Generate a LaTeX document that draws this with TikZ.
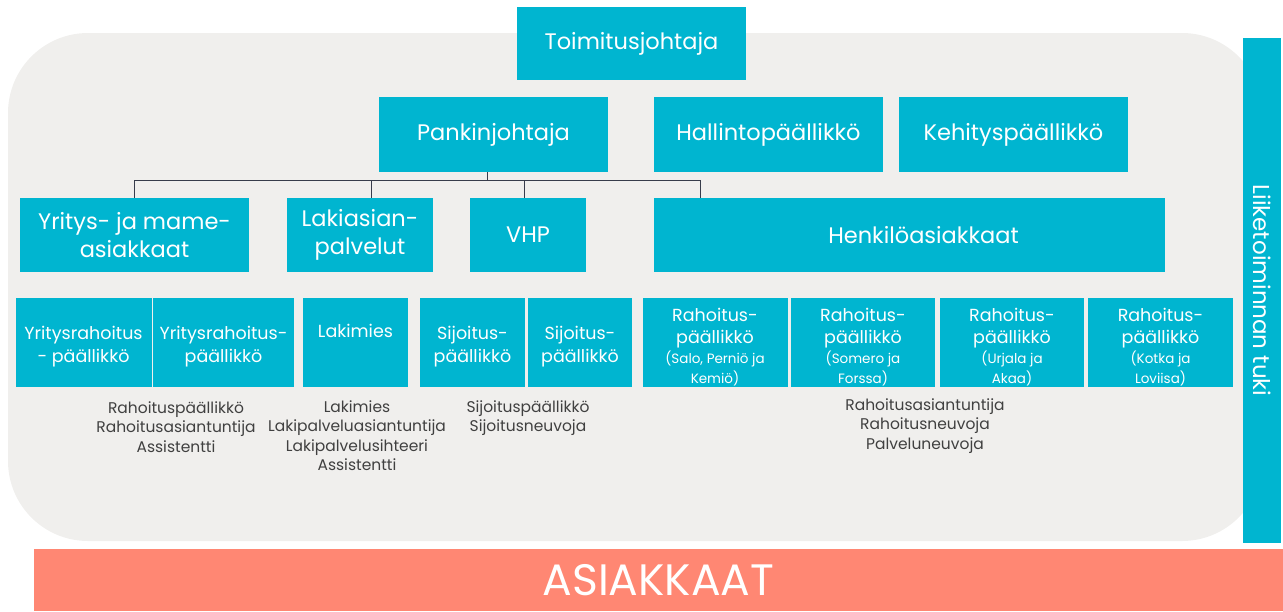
\documentclass[tikz,border=0pt]{standalone}
\usepackage{fontspec}
\setmainfont{Poppins}
\definecolor{boxc}{RGB}{0,181,208}
\definecolor{bgc}{RGB}{240,239,237}
\definecolor{salmon}{RGB}{255,135,115}
\definecolor{linec}{RGB}{55,60,75}
\definecolor{txtc}{RGB}{64,64,64}
\newcommand{\smalltx}[1]{{\fontsize{13.5}{18}\selectfont #1}}
\begin{document}
\begin{tikzpicture}[x=1pt,y=-1pt,
  box/.style={fill=boxc, text=white, align=center, inner sep=0pt, font=\fontsize{22.5}{28}\selectfont},
  sbox/.style={fill=boxc, inner sep=0pt, minimum height=89pt},
  stxt/.style={text=white, align=center, inner sep=0pt, font=\fontsize{17.5}{23}\selectfont},
  rtxt/.style={text=white, align=center, inner sep=0pt, font=\fontsize{17.5}{22}\selectfont},
  conn/.style={draw=linec, line width=1pt},
  lst/.style={text=txtc, align=center, inner sep=0pt, font=\fontsize{15.5}{19.5}\selectfont}]
\useasboundingbox (0,0) rectangle (1283,611);
% background
\fill[bgc, rounded corners=80pt] (8,33) rectangle (1262,541);
% side and bottom bars
\node[box, minimum width=38pt, minimum height=505pt] (lt) at (1262,290.5) {};
\node[text=white, rotate=-90, font=\fontsize{23}{28}\selectfont, inner sep=0pt] (ltt) at (lt.center) {Liiketoiminnan tuki};
\node[fill=salmon, text=white, minimum width=1249pt, minimum height=62pt, inner sep=0pt, font=\fontsize{44}{48}\selectfont] (as) at (658.5,580) {ASIAKKAAT};
% top levels
\node[box, minimum width=229pt, minimum height=73pt] (tj) at (631.5,43.5) {Toimitusjohtaja};
\node[box, minimum width=229pt, minimum height=75pt] (pj) at (493.5,134.5) {Pankinjohtaja};
\node[box, minimum width=229pt, minimum height=75pt] (hp) at (768.5,134.5) {Hallintopäällikkö};
\node[box, minimum width=229pt, minimum height=75pt] (kp) at (1013.5,134.5) {Kehityspäällikkö};
% second row
\node[box, minimum width=229pt, minimum height=74pt] (yr) at (134.5,235) {Yritys- ja mame-\\asiakkaat};
\node[box, minimum width=146pt, minimum height=74pt] (la) at (360,235) {Lakiasian-\\palvelut};
\node[box, minimum width=116pt, minimum height=74pt] (vhp) at (528,235) {VHP};
\node[box, minimum width=511pt, minimum height=74pt] (hk) at (909.5,235) {\hspace*{28pt}Henkilöasiakkaat};
% connectors
\coordinate (bus) at (487,180);
\draw[conn] (bus) -- (bus |- pj.south);
\draw[conn] (bus) -| (yr.north);
\draw[conn] (bus) -| ([xshift=11pt]la.north);
\draw[conn] (bus) -| ([xshift=-4pt]vhp.north);
\draw[conn] (bus) -| ([xshift=-209.5pt]hk.north);
% third row boxes
\node[sbox, minimum width=136pt] (y1) at (83.5,342) {};
\node[sbox, minimum width=141pt] (y2) at (223.5,342) {};
\node[sbox, minimum width=105pt] (lk) at (355.5,342) {};
\node[sbox, minimum width=105pt] (s1) at (472.5,342) {};
\node[sbox, minimum width=104pt] (s2) at (580,342) {};
\node[sbox, minimum width=145pt] (r1) at (715,342) {};
\node[sbox, minimum width=144pt] (r2) at (863,342) {};
\node[sbox, minimum width=144pt] (r3) at (1012,342) {};
\node[sbox, minimum width=145pt] (r4) at (1160.5,342) {};
% third row texts
\node[stxt] (y1t) at ([yshift=-4.5pt]y1.center) {Yritysrahoitus\\- päällikkö};
\node[stxt] (y2t) at ([yshift=-4.5pt]y2.center) {Yritysrahoitus-\\päällikkö};
\node[stxt] (lkt) at ([yshift=11pt]lk.center) {Lakimies};
\node[stxt] (s1t) at ([yshift=-4.5pt]s1.center) {Sijoitus-\\päällikkö};
\node[stxt] (s2t) at ([yshift=-4.5pt]s2.center) {Sijoitus-\\päällikkö};
\node[rtxt] (r1t) at ([yshift=-5.5pt]r1.center) {Rahoitus-\\päällikkö\\[-2pt]\smalltx{(Salo, Perniö ja}\\[-2pt]\smalltx{Kemiö)}};
\node[rtxt] (r2t) at ([yshift=-5.5pt]r2.center) {Rahoitus-\\päällikkö\\[-2pt]\smalltx{(Somero ja}\\[-2pt]\smalltx{Forssa)}};
\node[rtxt] (r3t) at ([yshift=-5.5pt]r3.center) {Rahoitus-\\päällikkö\\[-2pt]\smalltx{(Urjala ja}\\[-2pt]\smalltx{Akaa)}};
\node[rtxt] (r4t) at ([yshift=-5.5pt]r4.center) {Rahoitus-\\päällikkö\\[-2pt]\smalltx{(Kotka ja}\\[-2pt]\smalltx{Loviisa)}};
% lists
\node[lst, anchor=north] (l1) at (176,401) {Rahoituspäällikkö\\Rahoitusasiantuntija\\Assistentti};
\node[lst, anchor=north] (l2) at (357,400) {Lakimies\\Lakipalveluasiantuntija\\Lakipalvelusihteeri\\Assistentti};
\node[lst, anchor=north] (l3) at (528,400) {Sijoituspäällikkö\\Sijoitusneuvoja};
\node[lst, anchor=north] (l4) at (925,398) {Rahoitusasiantuntija\\Rahoitusneuvoja\\Palveluneuvoja};
\end{tikzpicture}
\end{document}
